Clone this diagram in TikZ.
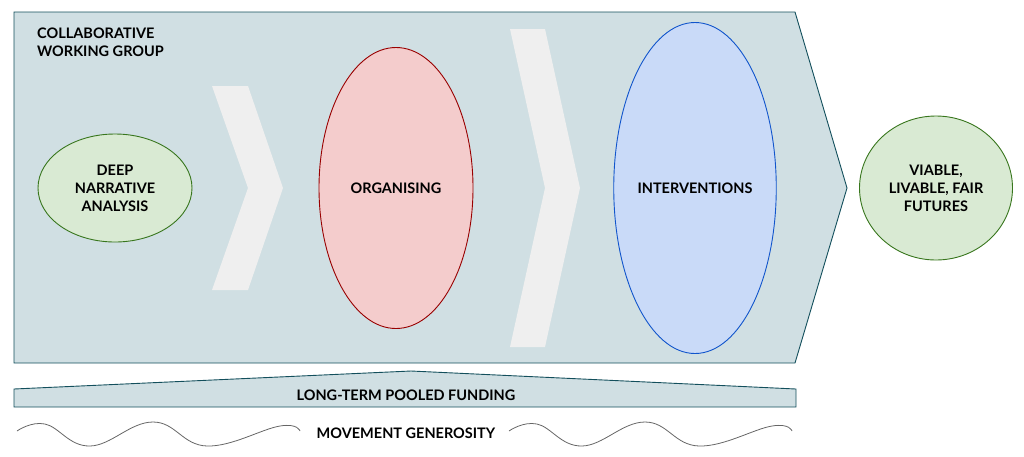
\documentclass[tikz,border=0pt]{standalone}
\usepackage{fontspec}
\setmainfont{Lato}
\usetikzlibrary{shapes.geometric}

\definecolor{panelfill}{HTML}{D0DFE3}
\definecolor{paneldraw}{HTML}{134F5C}
\definecolor{chevfill}{HTML}{EFEFEF}
\definecolor{greenfill}{HTML}{D9EAD3}
\definecolor{greendraw}{HTML}{38761D}
\definecolor{redfill}{HTML}{F4CCCC}
\definecolor{reddraw}{HTML}{990000}
\definecolor{bluefill}{HTML}{C9DAF8}
\definecolor{bluedraw}{HTML}{1155CC}
\definecolor{wavegray}{HTML}{666666}

\tikzset{
	captext/.style={font=\bfseries\fontsize{14.5}{18}\selectfont, align=center, inner sep=0pt},
	stage/.style={ellipse, line width=0.9pt, inner sep=0pt, captext},
}

\begin{document}
\begin{tikzpicture}[x=1pt,y=-1pt]
		\useasboundingbox (0,0) rectangle (1024,456);
		
		% Working group panel
		\filldraw[fill=panelfill,draw=paneldraw,line width=0.9pt] (14,12) -- (795,12) -- (847,188) -- (795,363) -- (14,363) -- cycle;
		\node[captext,align=left,anchor=west] (group) at (37,42.5) {COLLABORATIVE\\WORKING GROUP};
		
		% Chevrons
		\fill[chevfill] (212,86) -- (248,86) -- (283,188) -- (248,290) -- (212,290) -- (248,188) -- cycle;
		\fill[chevfill] (510,29) -- (545,29) -- (580,188) -- (545,347) -- (510,347) -- (545,188) -- cycle;
		
		% Stages
		\node[stage,fill=greenfill,draw=greendraw,minimum width=154pt,minimum height=108pt] (deep) at (115,188) {DEEP\\NARRATIVE\\ANALYSIS};
		\node[stage,fill=redfill,draw=reddraw,minimum width=154pt,minimum height=281pt] (organising) at (396,188) {ORGANISING};
		\node[stage,fill=bluefill,draw=bluedraw,minimum width=155pt,minimum height=331pt] (interventions) at (695,188) {INTERVENTIONS};
		
		% Futures
		\node[stage,fill=greenfill,draw=greendraw,minimum width=153pt,minimum height=144pt] (futures) at (936,188) {VIABLE,\\LIVABLE, FAIR\\FUTURES};
		
		% Funding
		\filldraw[fill=panelfill,draw=paneldraw,line width=0.9pt] (14,389) -- (411,371) -- (796,389) -- (796,407) -- (14,407) -- cycle;
		\node[captext] (funding) at (406,395) {LONG-TERM POOLED FUNDING};
		
		% Generosity waves
		\foreach \dx in {0,492}
			\draw[wavegray,line width=0.8pt,xshift=\dx pt] plot[smooth,tension=0.7] coordinates {(17,431) (45,424) (90,446) (153,422) (207,446) (280,426) (300,431)};
		\node[captext] (generosity) at (406,433) {MOVEMENT GENEROSITY};
	\end{tikzpicture}
\end{document}
